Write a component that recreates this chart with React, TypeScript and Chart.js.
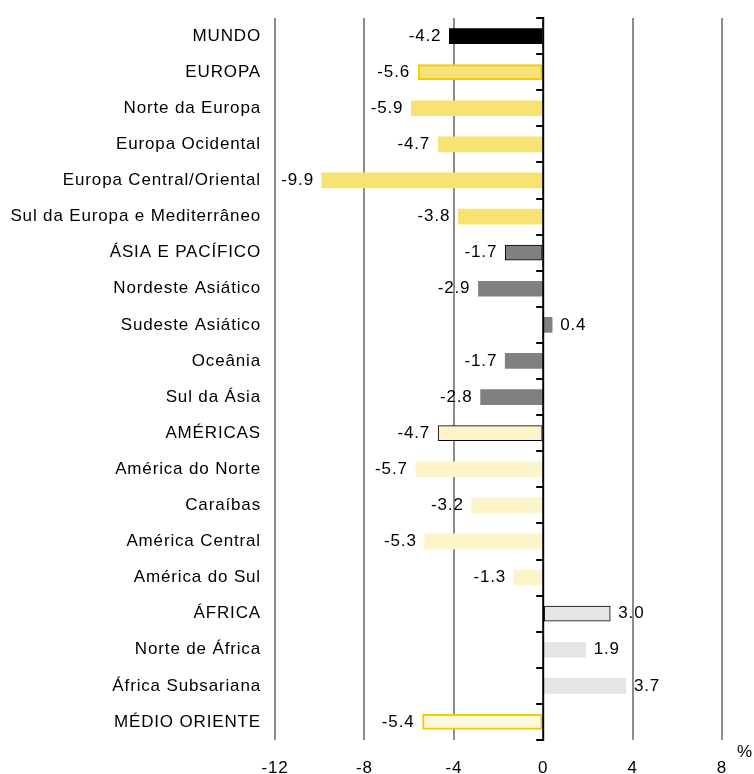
import { useEffect, useRef } from 'react';
import { Chart, registerables } from 'chart.js';

Chart.register(...registerables);

// Regions and sub-regions, top to bottom
const categories = [
  'MUNDO',
  'EUROPA',
  'Norte da Europa',
  'Europa Ocidental',
  'Europa Central/Oriental',
  'Sul da Europa e Mediterrâneo',
  'ÁSIA E PACÍFICO',
  'Nordeste Asiático',
  'Sudeste Asiático',
  'Oceânia',
  'Sul da Ásia',
  'AMÉRICAS',
  'América do Norte',
  'Caraíbas',
  'América Central',
  'América do Sul',
  'ÁFRICA',
  'Norte de África',
  'África Subsariana',
  'MÉDIO ORIENTE',
];

// Change, in %
const values = [
  -4.2, -5.6, -5.9, -4.7, -9.9, -3.8, -1.7, -2.9, 0.4, -1.7, -2.8, -4.7, -5.7, -3.2, -5.3, -1.3, 3.0,
  1.9, 3.7, -5.4,
];

// Which colour family each row belongs to
const groups = [
  'world',
  'europeTotal',
  'europe',
  'europe',
  'europe',
  'europe',
  'asiaTotal',
  'asia',
  'asia',
  'asia',
  'asia',
  'americasTotal',
  'americas',
  'americas',
  'americas',
  'americas',
  'africaTotal',
  'africa',
  'africa',
  'middleEastTotal',
];

const xTickValues = [-12, -8, -4, 0, 4, 8];

const palette: Record<string, { fill: string; border: string; width: number }> = {
  world: { fill: '#000000', border: '#000000', width: 0 },
  europeTotal: { fill: '#f8e27a', border: '#f5cc00', width: 2 },
  europe: { fill: '#f8e271', border: '#f8e271', width: 0 },
  asiaTotal: { fill: '#808080', border: '#000000', width: 1 },
  asia: { fill: '#808080', border: '#808080', width: 0 },
  americasTotal: { fill: '#fdf5c9', border: '#000000', width: 1 },
  americas: { fill: '#fdf5c9', border: '#fdf5c9', width: 0 },
  africaTotal: { fill: '#e5e5e5', border: '#000000', width: 1 },
  africa: { fill: '#e5e5e5', border: '#e5e5e5', width: 0 },
  middleEastTotal: { fill: '#fef8df', border: '#f5cc00', width: 2 },
};

const FONT_FAMILY = '"Liberation Sans", Arial, Helvetica, sans-serif';
const FONT_SIZE = 17;
const LETTER_SPACING = '0.85px';

// Slightly wider text tracking for every label on the canvas
const trackingPlugin = {
  id: 'tracking',
  beforeInit(chart: any) {
    chart.ctx.letterSpacing = LETTER_SPACING;
  },
  beforeUpdate(chart: any) {
    chart.ctx.letterSpacing = LETTER_SPACING;
  },
  beforeDraw(chart: any) {
    chart.ctx.letterSpacing = LETTER_SPACING;
  },
};

// Zero axis with category ticks, value labels and the unit sign
const overlayPlugin = {
  id: 'overlay',
  afterDatasetsDraw(chart: any) {
    const { ctx, chartArea, scales } = chart;
    const xs = scales.x;
    const ys = scales.y;
    const x0 = xs.getPixelForValue(0);
    ctx.save();

    ctx.strokeStyle = '#000000';
    ctx.lineWidth = 2;
    ctx.beginPath();
    ctx.moveTo(x0, chartArea.top);
    ctx.lineTo(x0, chartArea.bottom);
    for (let i = 0; i <= categories.length; i++) {
      const y = Math.round(ys.getPixelForValue(i - 0.5));
      ctx.moveTo(x0 + 1, y);
      ctx.lineTo(x0 - 7, y);
    }
    ctx.stroke();

    ctx.fillStyle = '#000000';
    ctx.font = `${FONT_SIZE}px ${FONT_FAMILY}`;
    ctx.letterSpacing = LETTER_SPACING;
    ctx.textBaseline = 'middle';
    const meta = chart.getDatasetMeta(0);
    meta.data.forEach((bar: any, i: number) => {
      const v = values[i];
      const gap = 8;
      if (v < 0) {
        ctx.textAlign = 'right';
        ctx.fillText(v.toFixed(1), bar.x - gap, bar.y);
      } else {
        ctx.textAlign = 'left';
        ctx.fillText(v.toFixed(1), bar.x + gap, bar.y);
      }
    });

    ctx.textAlign = 'center';
    ctx.fillText('%', chart.width - 9, chartArea.bottom + 12);
    ctx.restore();
  },
};

export default function App() {
  const canvasRef = useRef<HTMLCanvasElement | null>(null);

  useEffect(() => {
    if (!canvasRef.current) return;
    const chart = new Chart(canvasRef.current, {
      type: 'bar',
      data: {
        labels: categories,
        datasets: [
          {
            data: values,
            backgroundColor: groups.map((g) => palette[g].fill),
            borderColor: groups.map((g) => palette[g].border),
            borderWidth: groups.map((g) => palette[g].width),
            borderSkipped: false,
            barThickness: 15,
          },
        ],
      },
      options: {
        indexAxis: 'y',
        animation: false,
        responsive: false,
        devicePixelRatio: 1,
        layout: { padding: { top: 18, right: 32, left: 0, bottom: 0 } },
        plugins: {
          legend: { display: false },
          tooltip: { enabled: false },
        },
        scales: {
          x: {
            type: 'linear',
            min: -12,
            max: 8,
            afterBuildTicks: (scale: any) => {
              scale.ticks = xTickValues.map((v) => ({ value: v }));
            },
            afterFit: (scale: any) => {
              scale.height = 34;
              scale.paddingLeft = 0;
              scale.paddingRight = 0;
            },
            grid: {
              color: (c: any) => (c.tick && c.tick.value === 0 ? 'rgba(0,0,0,0)' : '#8c8c8c'),
              lineWidth: 2,
              drawTicks: false,
            },
            border: { display: false },
            ticks: {
              color: '#000000',
              font: { family: FONT_FAMILY, size: FONT_SIZE },
              padding: 18,
              maxRotation: 0,
              autoSkip: false,
            },
          },
          y: {
            type: 'category',
            afterFit: (scale: any) => {
              scale.width = 275;
              scale.paddingTop = 0;
              scale.paddingBottom = 0;
            },
            grid: { display: false, drawTicks: false },
            border: { display: false },
            ticks: {
              color: '#000000',
              font: { family: FONT_FAMILY, size: FONT_SIZE },
              padding: 14,
              autoSkip: false,
            },
          },
        },
      },
      plugins: [trackingPlugin, overlayPlugin],
    });
    return () => chart.destroy();
  }, []);

  return (
    <div style={{ position: 'absolute', left: 0, top: 0, width: 754, height: 774, background: '#ffffff' }}>
      <canvas ref={canvasRef} width={754} height={774} />
    </div>
  );
}
